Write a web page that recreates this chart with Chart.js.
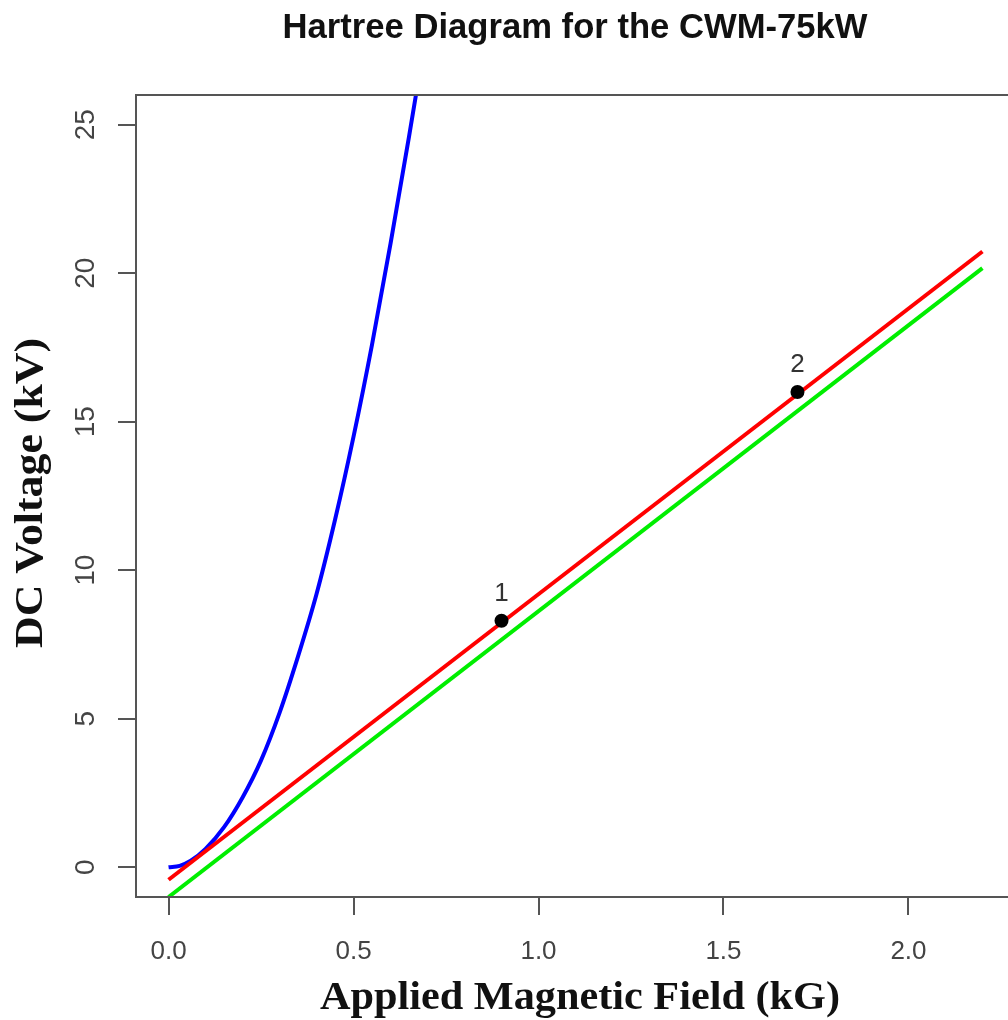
<!DOCTYPE html>
<html>
<head>
<meta charset="utf-8">
<script src="https://cdn.jsdelivr.net/npm/chart.js@4"></script>
<style>
  html, body { margin: 0; padding: 0; background: #fff; overflow: hidden; }
  #wrap { width: 1008px; height: 1020px; overflow: hidden; }
</style>
</head>
<body>
<div id="wrap"><canvas id="hartree" width="1030" height="1020"></canvas></div>
<script>
// Hartree diagram

// Hull cutoff curve (blue)
const hullB = [0.0, 0.03, 0.06, 0.1, 0.15, 0.2, 0.25, 0.3, 0.35, 0.4, 0.45, 0.5, 0.55, 0.6, 0.65, 0.69];
const hullV = [0.0, 0.05, 0.22, 0.62, 1.35, 2.35, 3.6, 5.2, 7.1, 9.2, 11.7, 14.5, 17.6, 21.0, 24.6, 27.6];

// Hartree lines (red and green)
const redB = [0.0, 2.2];
const redV = [-0.42, 20.73];
const greenB = [0.0, 2.2];
const greenV = [-1.0, 20.17];

// Operating points
const opLabels = ['1', '2'];
const opB = [0.9, 1.7];
const opV = [8.3, 16.0];

// Axes
const xTicks = [0.0, 0.5, 1.0, 1.5, 2.0];
const yTicks = [0, 5, 10, 15, 20, 25];
const xRange = [-0.088, 2.288];
const yRange = [-1.0, 26.0];

const TITLE = 'Hartree Diagram for the CWM-75kW';
const X_TITLE = 'Applied Magnetic Field (kG)';
const Y_TITLE = 'DC Voltage (kV)';

const toXY = (xs, ys) => xs.map((x, i) => ({ x: x, y: ys[i] }));

// draw text squeezed/stretched to a fixed width
function fitText(ctx, text, cx, cy, width, font, color) {
    ctx.save();
    ctx.font = font;
    ctx.fillStyle = color;
    ctx.textAlign = 'center';
    ctx.textBaseline = 'middle';
    const w = ctx.measureText(text).width;
    ctx.translate(cx, cy);
    ctx.scale(width / w, 1);
    ctx.fillText(text, 0, 0);
    ctx.restore();
}

const decorations = {
    id: 'decorations',
    afterDraw(chart) {
        const ctx = chart.ctx;
        const area = chart.chartArea;
        const xs = chart.scales.x;
        const ys = chart.scales.y;

        // plot box
        ctx.save();
        ctx.strokeStyle = '#555';
        ctx.lineWidth = 2;
        ctx.strokeRect(area.left, area.top, area.right - area.left, area.bottom - area.top);
        ctx.restore();

        // x tick labels
        ctx.save();
        ctx.font = '26px "Liberation Sans", Arial, sans-serif';
        ctx.fillStyle = '#444';
        ctx.textAlign = 'center';
        ctx.textBaseline = 'middle';
        xTicks.forEach(v => ctx.fillText(v.toFixed(1), xs.getPixelForValue(v), 952));
        ctx.restore();

        // y tick labels, rotated like R's default
        ctx.save();
        ctx.font = '28px "Liberation Sans", Arial, sans-serif';
        ctx.fillStyle = '#444';
        ctx.textAlign = 'center';
        ctx.textBaseline = 'middle';
        yTicks.forEach(v => {
            ctx.save();
            ctx.translate(86, ys.getPixelForValue(v));
            ctx.rotate(-Math.PI / 2);
            ctx.fillText(String(v), 0, 0);
            ctx.restore();
        });
        ctx.restore();

        // point labels
        ctx.save();
        ctx.font = '26px "Liberation Sans", Arial, sans-serif';
        ctx.fillStyle = '#333';
        ctx.textAlign = 'center';
        ctx.textBaseline = 'middle';
        opLabels.forEach((t, i) => {
            ctx.fillText(t, xs.getPixelForValue(opB[i]), ys.getPixelForValue(opV[i]) - 27);
        });
        ctx.restore();

        // titles
        fitText(ctx, TITLE, 575, 28, 585, 'bold 35px "Liberation Sans", Arial, sans-serif', '#111');
        fitText(ctx, X_TITLE, 580, 999, 520, 'bold 40px "Liberation Serif", "Times New Roman", serif', '#111');
        ctx.save();
        ctx.translate(32, 493);
        ctx.rotate(-Math.PI / 2);
        fitText(ctx, Y_TITLE, 0, 0, 310, 'bold 40px "Liberation Serif", "Times New Roman", serif', '#111');
        ctx.restore();
    }
};

const ctx = document.getElementById('hartree');
const chart = new Chart(ctx, {
    type: 'scatter',
    data: {
        datasets: [
            {
                label: 'Operating points',
                data: toXY(opB, opV),
                showLine: false,
                pointRadius: 7,
                pointBackgroundColor: '#000',
                pointBorderColor: '#000',
                pointBorderWidth: 0
            },
            {
                label: 'Hartree (red)',
                data: toXY(redB, redV),
                showLine: true,
                borderColor: '#ff0000',
                borderWidth: 4,
                pointRadius: 0
            },
            {
                label: 'Hartree (green)',
                data: toXY(greenB, greenV),
                showLine: true,
                borderColor: '#00ee00',
                borderWidth: 4,
                pointRadius: 0
            },
            {
                label: 'Hull cutoff',
                data: toXY(hullB, hullV),
                showLine: true,
                borderColor: '#0000ff',
                borderWidth: 4,
                pointRadius: 0,
                cubicInterpolationMode: 'monotone'
            }
        ]
    },
    options: {
        responsive: false,
        animation: false,
        devicePixelRatio: 1,
        layout: { padding: { top: 95, right: 15, left: 0, bottom: 0 } },
        plugins: {
            legend: { display: false },
            tooltip: { enabled: false },
            title: { display: false }
        },
        scales: {
            x: {
                type: 'linear',
                min: xRange[0],
                max: xRange[1],
                afterBuildTicks: s => { s.ticks = xTicks.map(v => ({ value: v })); },
                afterFit: s => { s.height = 123; },
                ticks: { display: false },
                border: { display: false },
                grid: {
                    drawOnChartArea: false,
                    drawTicks: true,
                    tickLength: 18,
                    color: '#555',
                    lineWidth: 2
                }
            },
            y: {
                type: 'linear',
                min: yRange[0],
                max: yRange[1],
                afterBuildTicks: s => { s.ticks = yTicks.map(v => ({ value: v })); },
                afterFit: s => { s.width = 136; },
                ticks: { display: false },
                border: { display: false },
                grid: {
                    drawOnChartArea: false,
                    drawTicks: true,
                    tickLength: 18,
                    color: '#555',
                    lineWidth: 2
                }
            }
        }
    },
    plugins: [decorations]
});
</script>
</body>
</html>
